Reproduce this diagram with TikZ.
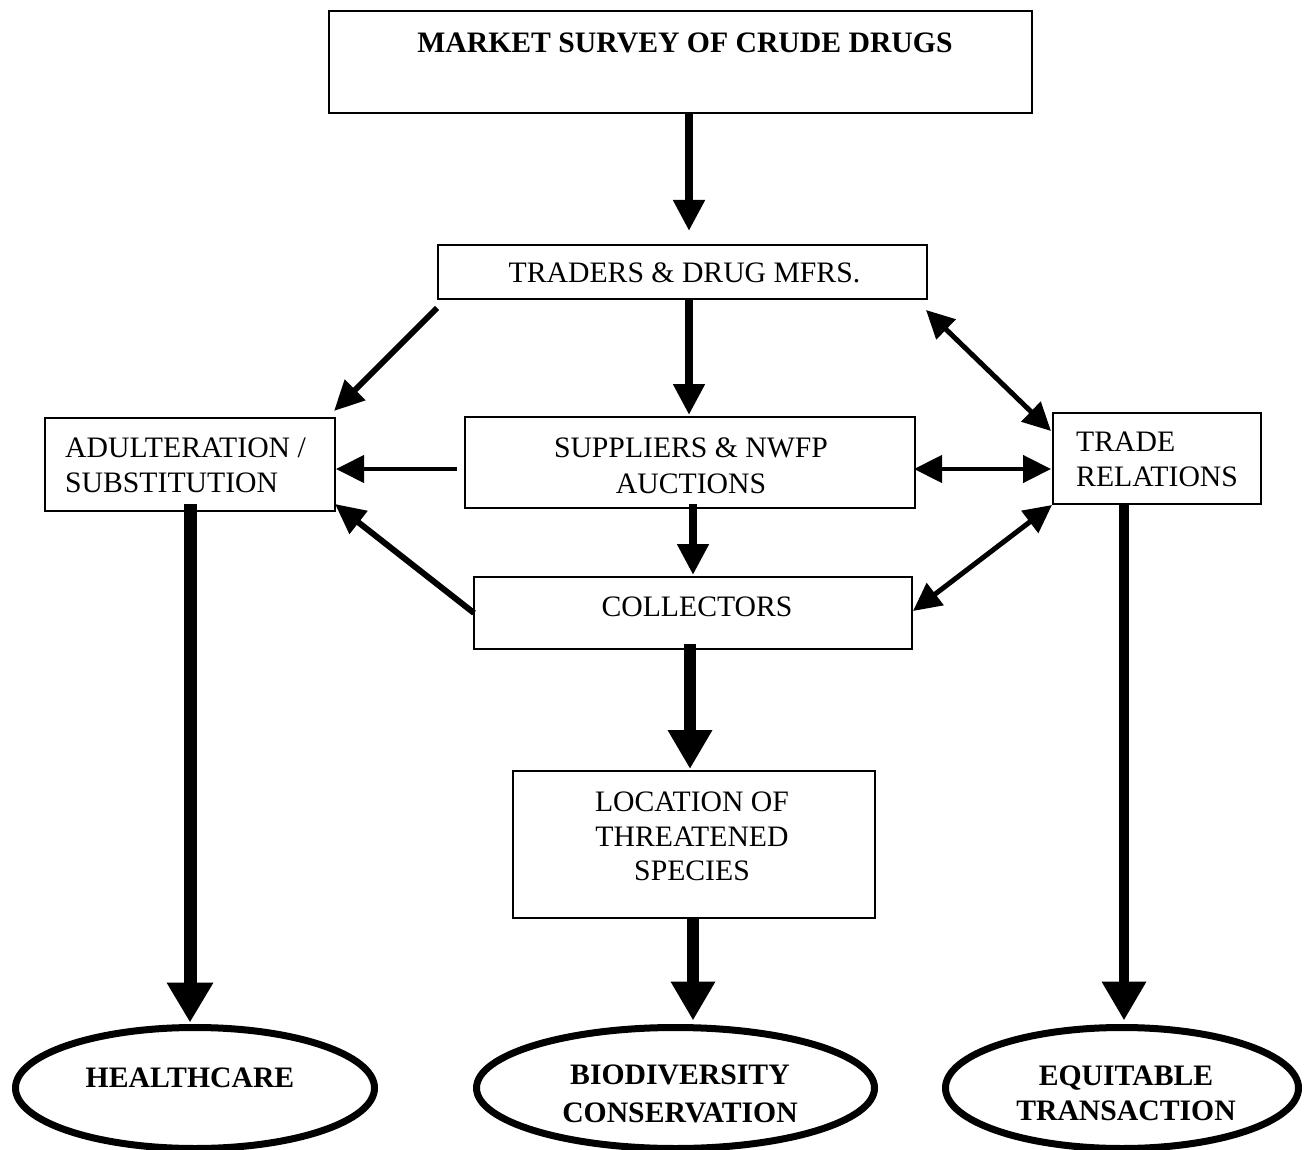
\documentclass[tikz,border=0pt]{standalone}
\usepackage{fontspec}
\setmainfont{Liberation Serif}
\usetikzlibrary{arrows.meta,shapes.geometric,calc}
\tikzset{
  box/.style={draw, line width=2pt, rectangle, inner sep=0pt},
  oval/.style={draw, ellipse, line width=7pt, inner sep=0pt, minimum height=119pt},
  txt/.style={inner sep=0pt, align=center, font=\fontsize{29.7}{35}\selectfont},
  btxt/.style={inner sep=0pt, align=center, font=\fontsize{29.7}{38}\selectfont\bfseries},
  ltxt/.style={inner sep=0pt, align=left, anchor=west, font=\fontsize{29.7}{34.5}\selectfont},
  thinA/.style={line width=8pt, -{Triangle[length=31pt,width=30pt]}},
  fatA/.style={line width=12pt, -{Triangle[length=39pt,width=42pt]}},
  diagA/.style={line width=6pt, -{Triangle[length=30pt,width=28pt]}},
  horA/.style={line width=4pt, -{Triangle[length=28pt,width=27pt]}},
  dblA/.style={line width=5pt, {Triangle[length=28pt,width=27pt]}-{Triangle[length=28pt,width=27pt]}},
}
\begin{document}
\begin{tikzpicture}[x=1pt,y=-1pt]
\useasboundingbox (0,0) rectangle (1307,1150);
\fill[white] (0,0) rectangle (1307,1150);

% boxes
\node[box, minimum width=703pt, minimum height=102pt] (top) at (680.5,62) {};
\node[btxt] (topT) at (685,43) {MARKET SURVEY OF CRUDE DRUGS};

\node[box, minimum width=489pt, minimum height=54pt] (traders) at (682.5,272) {};
\node[txt] (tradersT) at (684.5,273) {TRADERS \& DRUG MFRS.};

\node[box, minimum width=450pt, minimum height=91pt] (suppliers) at (690,462.5) {};
\node[txt, font=\fontsize{29.7}{36}\selectfont] (suppliersT) at (691,465.5) {SUPPLIERS \& NWFP\\AUCTIONS};

\node[box, minimum width=290pt, minimum height=93pt] (adult) at (190,464.5) {};
\node[ltxt, font=\fontsize{29.7}{35}\selectfont] (adultT) at (65,465.5) {ADULTERATION /\\SUBSTITUTION};

\node[box, minimum width=208pt, minimum height=91pt] (trade) at (1157,458.5) {};
\node[ltxt] (tradeT) at (1076,459.5) {TRADE\\RELATIONS};

\node[box, minimum width=438pt, minimum height=72pt] (collectors) at (693,613) {};
\node[txt] (collectorsT) at (697,607) {COLLECTORS};

\node[box, minimum width=362pt, minimum height=147pt] (location) at (694,844.5) {};
\node[txt, font=\fontsize{29.7}{34.5}\selectfont] (locationT) at (692,836.5) {LOCATION OF\\THREATENED\\SPECIES};

% ovals
\node[oval, minimum width=359pt, minimum height=121pt] (health) at (195,1088) {};
\node[btxt] (healthT) at (190,1078) {HEALTHCARE};
\node[oval, minimum width=398pt, minimum height=121pt] (bio) at (675.5,1088) {};
\node[btxt] (bioT) at (680,1094) {BIODIVERSITY\\CONSERVATION};
\node[oval, minimum width=353pt, minimum height=121pt] (equit) at (1122,1088) {};
\node[btxt, font=\fontsize{29.7}{35}\selectfont\bfseries] (equitT) at (1126,1093) {EQUITABLE\\TRANSACTION};

% connectors
\draw[thinA] ($(top.south)+(8.5,0)$) -- ($(traders.north)+(6.5,-13)$);
\draw[diagA] ($(traders.south west)+(0,8)$) -- ($(adult.north east)+(-2,-6)$);
\draw[thinA] ($(traders.south)+(6.5,0)$) -- ($(suppliers.north)+(-1,-1)$);
\draw[dblA] ($(traders.south east)+(-2,10)$) -- ($(trade.north west)+(-1,19)$);
\draw[horA] ($(suppliers.west)+(-7,6.5)$) -- ($(adult.east)+(0,4.5)$);
\draw[dblA, line width=4.5pt] ($(suppliers.east)+(-2,6.5)$) -- ($(trade.west)+(-1,10.5)$);
\draw[thinA] ($(suppliers.south)+(3,-5)$) -- ($(collectors.north)+(0,-1)$);
\draw[diagA] ($(collectors.west)+(1,0)$) -- ($(adult.south east)+(-1,-8)$);
\draw[dblA] ($(collectors.east)+(0,-2)$) -- (trade.south west);
\draw[fatA] ($(collectors.south)+(-3,-6)$) -- ($(location.north)+(-4,-1)$);
\draw[fatA] ($(location.south)+(-1,0)$) -- ($(bio.north)+(17.5,-3.5)$);
\draw[fatA, line width=13pt, -{Triangle[length=40pt,width=44pt]}] ($(adult.south)+(0,-8)$) -- ($(health.north)+(-5,-1.5)$);
\draw[fatA, line width=10pt] ($(trade.south)+(-33,-1)$) -- ($(equit.north)+(2,-3.5)$);
\end{tikzpicture}
\end{document}
